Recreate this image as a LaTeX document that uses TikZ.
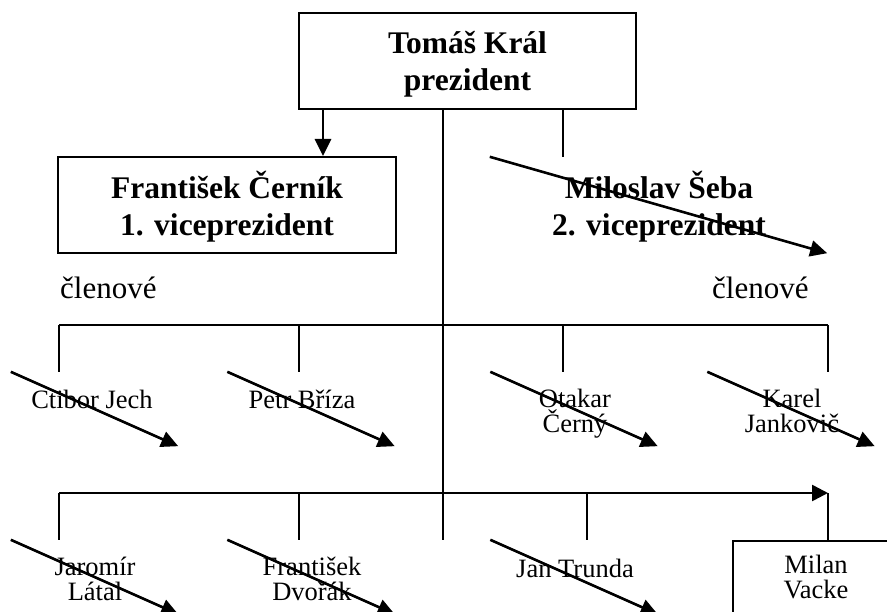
\documentclass[tikz,border=0pt]{standalone}
\usepackage{fontspec}
\setmainfont{Liberation Serif}
\usetikzlibrary{arrows.meta}
% invisible strut on the first line: the top of a text node lies 1em above its first baseline
\newcommand\firstline{\rule{0pt}{1em}}
\begin{document}
\begin{tikzpicture}[x=1bp,y=-1bp,
  % frames of the boxes (drawn or not)
  bigframe/.style={inner sep=0pt, minimum width=337bp, minimum height=96bp},
  boxed/.style={draw, line width=2bp},
  memberframe/.style={inner sep=0pt, minimum width=167bp, minimum height=74bp},
  % texts
  headtext/.style={anchor=north, inner sep=0pt, align=center,
    font=\bfseries\fontsize{31.5bp}{37.5bp}\selectfont},
  grouptext/.style={anchor=north west, inner sep=0pt,
    font=\fontsize{31bp}{36bp}\selectfont},
  nametext/.style={anchor=north, inner sep=0pt, align=center,
    font=\fontsize{26.5bp}{25bp}\selectfont},
  % connectors
  link/.style={line width=2bp},
  busarrow/.style={line width=2.6bp, -{Triangle[length=16bp,width=16bp]}},
  downarrow/.style={line width=2.8bp, -{Triangle[length=17bp,width=16bp]}},
  slash/.style={line width=2.6bp, -{Triangle[length=17bp,width=16bp]}}
]
\useasboundingbox (0,0) rectangle (887,612);

% reference x positions of the vertical lines and y positions of the buses
\coordinate (xA) at (59,0);
\coordinate (xB) at (299,0);
\coordinate (xC) at (443,0);
\coordinate (xD) at (563,0);
\coordinate (xE) at (828,0);
\coordinate (xF) at (587,0);
\coordinate (xG) at (323,0);
\coordinate (busM) at (0,325);
\coordinate (busB) at (0,493);

% president and vice-presidents
\node[bigframe, boxed] (presbox) at (467.5,61) {};
\node[headtext] (prestext) at (467.5,21.5) {\firstline Tomáš Král\\prezident};
\node[bigframe, boxed] (vpibox) at (227,205) {};
\node[headtext] (vpitext) at (227,166.5) {\firstline František Černík\\1. viceprezident};
\node[bigframe] (vpiibox) at (658.5,205) {};
\node[headtext] (vpiitext) at (659,166.5) {\firstline Miloslav Šeba\\2. viceprezident};

\node[grouptext] (groupL) at (60,267) {\firstline členové};
\node[grouptext] (groupR) at (712,267) {\firstline členové};

% members, first row
\node[memberframe] (jech) at (94.5,409) {};
\node[nametext] (jechtext) at (92,381.5) {\firstline Ctibor Jech};
\node[memberframe] (briza) at (311,409) {};
\node[nametext] (brizatext) at (302,381.5) {\firstline Petr Bříza};
\node[memberframe] (cerny) at (574,409) {};
\node[nametext] (cernytext) at (575,380.5) {\firstline Otakar\\Černý};
\node[memberframe] (jankovic) at (791,409) {};
\node[nametext] (jankovictext) at (792,380.5) {\firstline Karel\\Jankovič};

% members, second row
\node[memberframe] (latal) at (94.5,577) {};
\node[nametext] (lataltext) at (95,548.5) {\firstline Jaromír\\Látal};
\node[memberframe] (dvorak) at (311,577) {};
\node[nametext] (dvoraktext) at (312,548.5) {\firstline František\\Dvořák};
\node[memberframe] (trunda) at (574,577) {};
\node[nametext] (trundatext) at (575,550.5) {\firstline Jan Trunda};
\node[memberframe, boxed] (vacke) at (816,578) {};
\node[nametext] (vacketext) at (816,546.5) {\firstline Milan\\Vacke};

% lines from the president
\draw[downarrow] (presbox.south -| xG) -- (vpibox.north -| xG);
\draw[link] (presbox.south -| xC) -- (latal.north -| xC);
\draw[link] (presbox.south -| xD) -- (vpiibox.north -| xD);

% first bus
\draw[link] (busM -| xA) -- (busM -| xE);
\draw[link] (busM -| xA) -- (jech.north -| xA);
\draw[link] (busM -| xB) -- (briza.north -| xB);
\draw[link] (busM -| xD) -- (cerny.north -| xD);
\draw[link] (busM -| xE) -- (jankovic.north -| xE);

% second bus
\draw[busarrow] (busB -| xA) -- (busB -| xE);
\draw[link] (busB -| xA) -- (latal.north -| xA);
\draw[link] (busB -| xB) -- (dvorak.north -| xB);
\draw[link] (busB -| xF) -- (trunda.north -| xF);
\draw[link] (busB -| xE) -- (vacke.north -| xE);

% diagonal strokes across the frames
\draw[slash] (vpiibox.north west) -- (vpiibox.south east);
\draw[slash] (jech.north west) -- (jech.south east);
\draw[slash] (briza.north west) -- (briza.south east);
\draw[slash] (cerny.north west) -- (cerny.south east);
\draw[slash] (jankovic.north west) -- (jankovic.south east);
\draw[slash] (latal.north west) -- (latal.south east);
\draw[slash] (dvorak.north west) -- (dvorak.south east);
\draw[slash] (trunda.north west) -- (trunda.south east);
\end{tikzpicture}
\end{document}
